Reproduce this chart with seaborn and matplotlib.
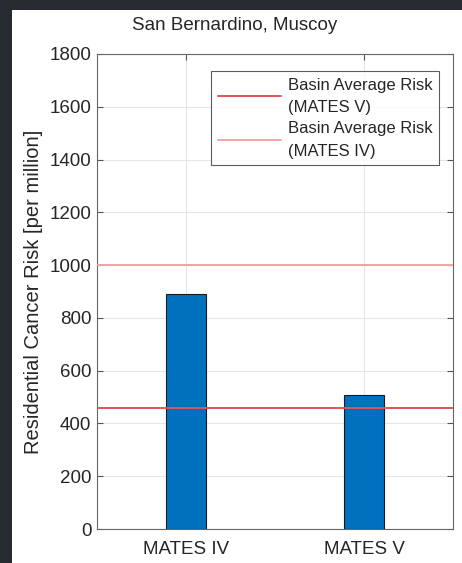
import matplotlib
matplotlib.use("Agg")
import matplotlib.pyplot as plt
import seaborn as sns
import pandas as pd
from matplotlib.patches import Rectangle

# Residential cancer risk for the community, by MATES study
categories = ["MATES IV", "MATES V"]
risk_values = [889, 508]

# Basin-wide average risk reference lines
basin_avg_mates_v = 458
basin_avg_mates_iv = 1000

y_ticks = [0, 200, 400, 600, 800, 1000, 1200, 1400, 1600, 1800]

df = pd.DataFrame({"study": categories, "risk": risk_values})

sns.set_theme(style="white")
plt.rcParams["font.family"] = ["Liberation Sans", "DejaVu Sans"]

text_color = "#262626"
fig = plt.figure(figsize=(4.62, 5.63), dpi=100)
fig.patch.set_facecolor("#262b31")
# white canvas panel behind the axes
fig.patches.append(Rectangle((12 / 462, 0), 1 - 12 / 462, 1 - 10 / 563,
                             transform=fig.transFigure, facecolor="white",
                             edgecolor="none", zorder=-10))

ax = fig.add_axes([97 / 462, 34 / 563, (453 - 97) / 462, (529 - 54) / 563])
ax.set_zorder(1)

sns.barplot(data=df, x="study", y="risk", ax=ax, color="#0072BD",
            saturation=1, width=0.224, edgecolor="#1a1a1a", linewidth=0.8,
            zorder=3)

ax.axhline(basin_avg_mates_v, color="#e05555", lw=1.4, zorder=4,
           label="Basin Average Risk\n(MATES V)")
ax.axhline(basin_avg_mates_iv, color="#f3a3a3", lw=1.4, zorder=4,
           label="Basin Average Risk\n(MATES IV)")

ax.set_xlim(-0.5, 1.5)
ax.set_ylim(0, 1800)
ax.set_yticks(y_ticks)
ax.set_xlabel("")
ax.set_ylabel("Residential Cancer Risk [per million]", fontsize=14.5,
              color=text_color, labelpad=5)

ax.grid(True, color="#e6e6e6", lw=0.8, zorder=0)
ax.set_axisbelow(True)
ax.tick_params(axis="both", direction="in", length=4, width=0.8,
               colors="#555555", labelcolor=text_color, labelsize=13.5,
               top=True, right=True, left=True, bottom=True, pad=4)
ax.tick_params(axis="x", pad=8.5)
for s in ax.spines.values():
    s.set_visible(True)
    s.set_color("#666666")
    s.set_linewidth(0.8)

leg = ax.legend(loc="upper right", bbox_to_anchor=(0.984, 0.982),
                fontsize=12, frameon=True, fancybox=False, handlelength=3.8,
                labelspacing=0.4, borderpad=0.4, handletextpad=0.4,
                labelcolor=text_color)
for t in leg.get_texts():
    t.set_linespacing(1.6)
leg.get_frame().set_edgecolor("#333333")
leg.get_frame().set_linewidth(0.8)

fig.text(235 / 462, 1 - 25 / 563, "San Bernardino, Muscoy", ha="center",
         va="center", fontsize=13.5, color=text_color)

fig.savefig("out.png", dpi=100)
